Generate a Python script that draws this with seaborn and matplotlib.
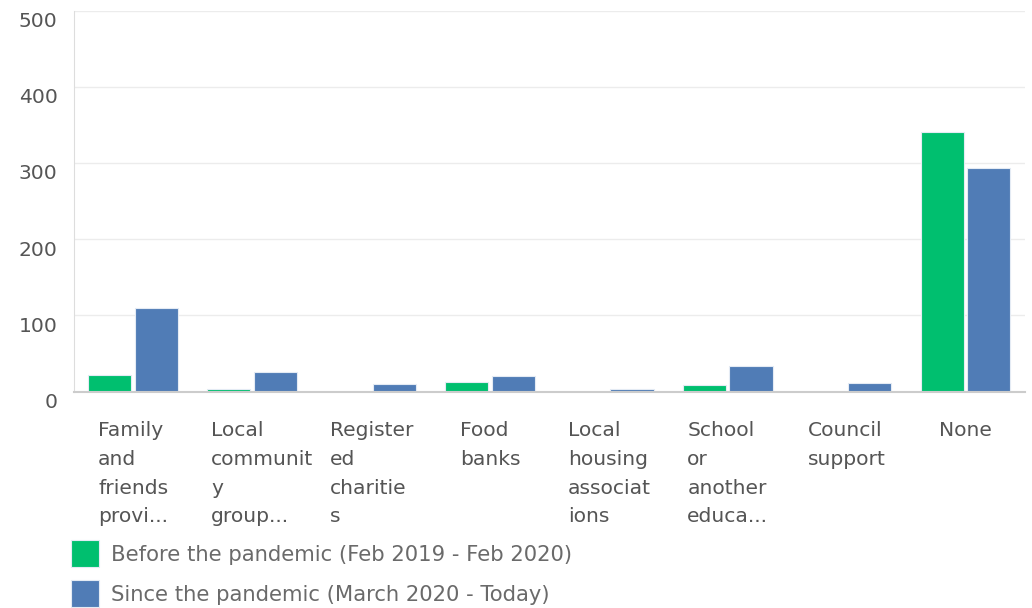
import matplotlib
matplotlib.use("Agg")
import matplotlib.pyplot as plt
import matplotlib.transforms as mtransforms
import seaborn as sns
import pandas as pd

categories = ["Family and friends provi...", "Local community group...", "Registered charities",
              "Food banks", "Local housing associations", "School or another educa...",
              "Council support", "None"]
tick_labels = ["Family\nand\nfriends\nprovi...", "Local\ncommunit\ny\ngroup...", "Register\ned\ncharitie\ns",
               "Food\nbanks", "Local\nhousing\nassociat\nions", "School\nor\nanother\neduca...",
               "Council\nsupport", "None"]
series_names = ["Before the pandemic (Feb 2019 - Feb 2020)", "Since the pandemic (March 2020 - Today)"]
before = [22, 3, 0, 13, 0, 8, 0, 340]
since = [110, 25, 10, 20, 3, 33, 11, 293]
y_ticks = [0, 100, 200, 300, 400, 500]

df = pd.DataFrame({
    "category": categories * 2,
    "series": [series_names[0]] * len(categories) + [series_names[1]] * len(categories),
    "value": before + since,
})

sns.set_style("white")
plt.rcParams["font.family"] = ["DejaVu Sans"]

W, H = 1032, 608
FS = 14.6
fig = plt.figure(figsize=(W / 100, H / 100), dpi=100)
ax = fig.add_axes([73.6 / W, (H - 391.5) / H, 951.5 / W, 381 / H])

sns.barplot(data=df, x="category", y="value", hue="series", order=categories,
            hue_order=series_names, palette=["#00BF6F", "#507CB6"], saturation=1,
            width=0.78, gap=0.07, edgecolor="#e4ebf4", linewidth=0.8, ax=ax, legend=True)

ax.set_ylim(0, 500)
ax.set_xlim(-0.5, len(categories) - 0.5)
ax.set_yticks(y_ticks)
ax.set_yticklabels([str(t) for t in y_ticks], fontsize=FS, color="#555555")
ax.yaxis.grid(True, color="#ececec", linewidth=1)
ax.set_axisbelow(True)
ax.set_xlabel("")
ax.set_ylabel("")
for s in ["top", "right"]:
    ax.spines[s].set_visible(False)
ax.spines["left"].set_color("#dddddd")
ax.spines["bottom"].set_color("#cccccc")
ax.spines["bottom"].set_linewidth(1.5)
ax.tick_params(axis="y", length=0, pad=11.5)
ax.tick_params(axis="x", length=0, pad=21.5)

# y tick labels sit slightly below their grid lines in the reference
yoff = mtransforms.ScaledTranslation(0, -9 / 100, fig.dpi_scale_trans)
for lab in ax.get_yticklabels():
    lab.set_transform(lab.get_transform() + yoff)

ax.set_xticks(range(len(categories)))
ax.set_xticklabels(tick_labels, fontsize=FS, color="#555555", ha="left", va="top",
                   linespacing=1.64)

# left-aligned wrapped blocks, centred on the tick within an ~82px wide box
fig.canvas.draw()
renderer = fig.canvas.get_renderer()
for lab in ax.get_xticklabels():
    w = lab.get_window_extent(renderer).width
    shift = -min(w, 82) / 2
    lab.set_transform(lab.get_transform() + mtransforms.ScaledTranslation(shift / 100, 0, fig.dpi_scale_trans))

handles, labels = ax.get_legend_handles_labels()
ax.get_legend().remove()
fig.legend(handles, labels, loc="upper left", bbox_to_anchor=(71 / W, 1 - 540 / H),
           frameon=False, fontsize=15.2, labelcolor="#6a6a6a",
           handlelength=1.33, handleheight=1.62, handletextpad=0.55, labelspacing=0.6,
           borderaxespad=0, borderpad=0)

fig.savefig("out.png", dpi=100)
